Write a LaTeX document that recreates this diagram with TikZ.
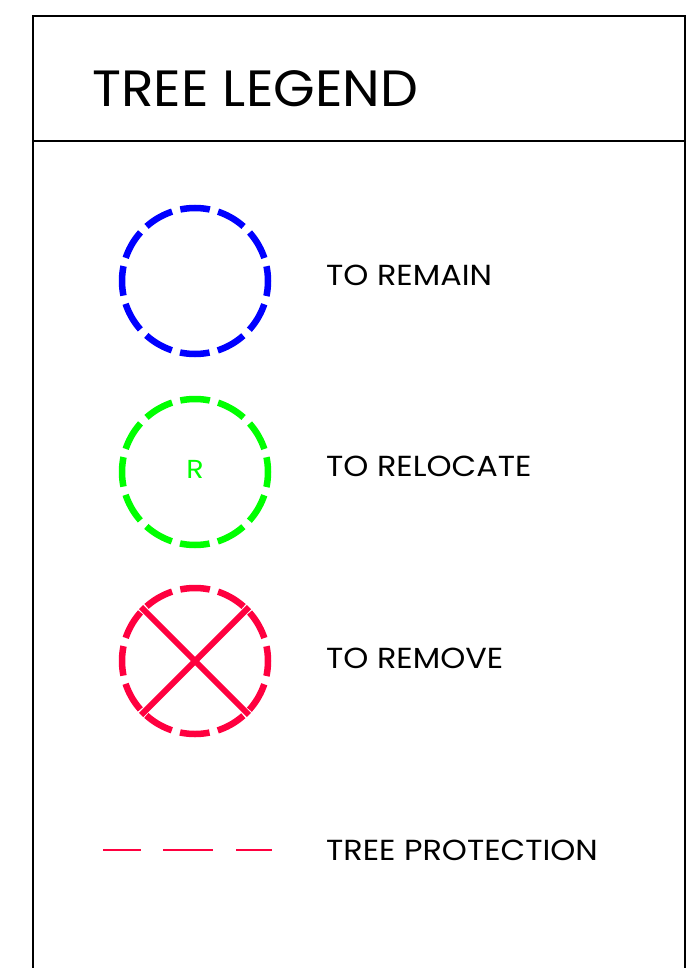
\documentclass[tikz,border=0pt]{standalone}
\usepackage{fontspec}
\setmainfont{Poppins}[FakeStretch=1.1]
\newfontfamily\ttlfont{Poppins}[FakeStretch=1.05]
\usepackage{xcolor}
\usetikzlibrary{calc}
\definecolor{keepblue}{RGB}{0,0,255}
\definecolor{movegreen}{RGB}{0,255,0}
\definecolor{cutred}{RGB}{255,0,63}

\begin{document}
\begin{tikzpicture}[
  x=1pt, y=-1pt,
  line cap=butt,
  frame/.style={line width=2pt, black},
  tree/.style={circle, minimum size=146pt, inner sep=0pt, line width=6.5pt,
    dash pattern=on 29.7pt off 8.5pt, dash phase=14.85pt},
  lbl/.style={anchor=west, inner sep=0pt, font=\fontsize{29}{34}\selectfont},
  ttl/.style={anchor=west, inner sep=0pt, font=\ttlfont\fontsize{51}{60}\selectfont}
]
\useasboundingbox (0,0) rectangle (692,968);

%========== frame and heading ==========
\draw[frame] (33,968) -- (33,16) -- (685,16) -- (685,968);
\draw[frame] (33,141) -- (685,141);
\node[ttl] (title) at (92,89) {TREE LEGEND};

%========== tree symbols ==========
\node[tree, draw=keepblue] (remain) at (195,281) {};
\node[tree, draw=movegreen] (relocate) at (195,472) {};
\node[text=movegreen, inner sep=0pt, font=\fontsize{26}{31}\selectfont] (rmark) at (195,469) {R};
\node[tree, draw=cutred] (remove) at (195,661) {};
\draw[cutred, line width=6pt] (remove.north west) -- (remove.south east);
\draw[cutred, line width=6pt] (remove.north east) -- (remove.south west);

% protection fence line (long-short CAD linetype)
\coordinate (fenceL) at (103,850);
\coordinate (fenceR) at (272,850);
\draw[cutred, line width=2pt, dash pattern=on 38pt off 22pt on 50pt off 23pt on 36pt off 40pt] (fenceL) -- (fenceR);

%========== labels ==========
\node[lbl] (lremain) at (326,275) {TO REMAIN};
\node[lbl] (lrelocate) at (326,466) {TO RELOCATE};
\node[lbl] (lremove) at (326,658) {TO REMOVE};
\node[lbl] (lfence) at (326,850) {TREE PROTECTION};
\end{tikzpicture}
\end{document}
